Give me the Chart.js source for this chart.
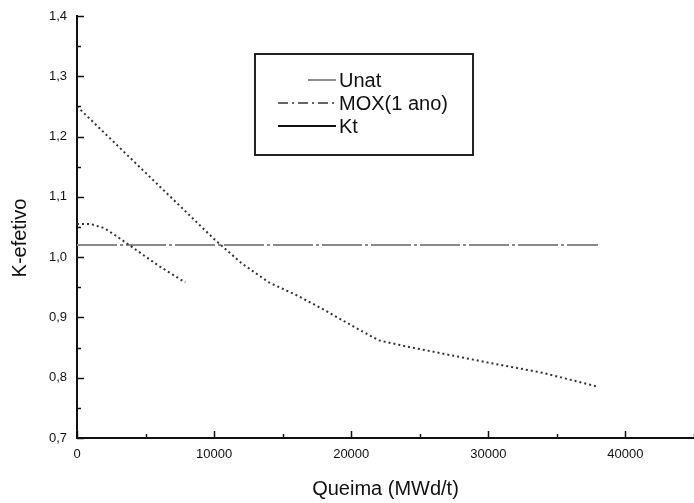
<!DOCTYPE html>
<html>
<head>
<meta charset="utf-8">
<script src="https://cdn.jsdelivr.net/npm/chart.js@4"></script>
<style>
  html, body { margin: 0; padding: 0; background: #fff; }
  canvas { display: block; }
</style>
</head>
<body>
<canvas id="chart" width="694" height="503"></canvas>
<script>
// burnup (MWd/t) and k-effective
const unatBurnup = [0, 1000, 2000, 3000, 4000, 6000, 7900];
const unatK = [1.055, 1.055, 1.048, 1.033, 1.017, 0.985, 0.958];

const moxBurnup = [0, 10000, 12000, 14000, 16000, 18000, 20000, 22000, 24000, 26000, 30000, 34000, 38000];
const moxK = [1.25, 1.03, 0.99, 0.958, 0.937, 0.913, 0.887, 0.862, 0.852, 0.843, 0.825, 0.808, 0.785];

const ktBurnup = [0, 38000];
const ktK = [1.02, 1.02];

const seriesLabels = ['Unat', 'MOX(1 ano)', 'Kt'];
const yTitle = 'K-efetivo';

const FONT = "'Liberation Sans', Arial, sans-serif";
const INK = '#111';

const toPoints = (xs, ys) => xs.map((x, i) => ({ x: x, y: ys[i] }));

const isMajorY = (v) => Math.abs(v * 10 - Math.round(v * 10)) < 1e-6;

// tick marks drawn inward, like the original plot
const innerTicks = {
  id: 'innerTicks',
  afterDraw(chart) {
    const { ctx, chartArea } = chart;
    const x = chart.scales.x;
    const y = chart.scales.y;
    ctx.save();
    ctx.strokeStyle = INK;
    ctx.lineWidth = 1.5;
    y.ticks.forEach((t) => {
      const py = Math.round(y.getPixelForValue(t.value)) + 0.5;
      const len = isMajorY(t.value) ? 7 : 4;
      ctx.beginPath();
      ctx.moveTo(chartArea.left, py);
      ctx.lineTo(chartArea.left + len, py);
      ctx.stroke();
    });
    x.ticks.forEach((t) => {
      const px = Math.round(x.getPixelForValue(t.value)) + 0.5;
      const len = t.value % 10000 === 0 ? 7 : 4;
      ctx.beginPath();
      ctx.moveTo(px, chartArea.bottom);
      ctx.lineTo(px, chartArea.bottom - len);
      ctx.stroke();
    });
    ctx.restore();
  },
};

// y title sits a bit below the middle of the axis in the original
const sideTitle = {
  id: 'sideTitle',
  afterDraw(chart) {
    const { ctx } = chart;
    ctx.save();
    ctx.translate(20, 238);
    ctx.rotate(-Math.PI / 2);
    ctx.font = '20px ' + FONT;
    ctx.fillStyle = INK;
    ctx.textAlign = 'center';
    ctx.textBaseline = 'middle';
    ctx.fillText(yTitle, 0, 0);
    ctx.restore();
  },
};

// boxed legend in the upper middle of the plot
const legendSamples = [
  { from: 308, dash: [], color: '#666', width: 1.5 },
  { from: 278, dash: [10, 4, 2, 4], color: '#333', width: 1.5 },
  { from: 278, dash: [], color: '#111', width: 2 },
];

const boxLegend = {
  id: 'boxLegend',
  afterDraw(chart) {
    const { ctx } = chart;
    ctx.save();
    ctx.strokeStyle = '#222';
    ctx.lineWidth = 2;
    ctx.strokeRect(255, 54, 218, 101);
    ctx.font = '20px ' + FONT;
    ctx.fillStyle = INK;
    ctx.textBaseline = 'middle';
    seriesLabels.forEach((label, i) => {
      const yy = 80 + i * 23;
      const s = legendSamples[i];
      ctx.strokeStyle = s.color;
      ctx.lineWidth = s.width;
      ctx.setLineDash(s.dash);
      ctx.beginPath();
      ctx.moveTo(s.from, yy);
      ctx.lineTo(336, yy);
      ctx.stroke();
      ctx.setLineDash([]);
      ctx.fillText(label, 339, yy + 1);
    });
    ctx.restore();
  },
};

new Chart(document.getElementById('chart'), {
  type: 'line',
  data: {
    datasets: [
      {
        label: seriesLabels[0],
        data: toPoints(unatBurnup, unatK),
        borderColor: '#333',
        borderWidth: 2,
        borderDash: [2, 3],
        pointRadius: 0,
        fill: false,
      },
      {
        label: seriesLabels[1],
        data: toPoints(moxBurnup, moxK),
        borderColor: '#333',
        borderWidth: 2,
        borderDash: [2, 3],
        pointRadius: 0,
        fill: false,
      },
      {
        label: seriesLabels[2],
        data: toPoints(ktBurnup, ktK),
        borderColor: '#8a8a8a',
        borderWidth: 2,
        borderDash: [40, 3, 3, 3],
        pointRadius: 0,
        fill: false,
      },
    ],
  },
  options: {
    responsive: false,
    animation: false,
    devicePixelRatio: 1,
    layout: { padding: { top: 16, right: 0, left: 0, bottom: 0 } },
    plugins: {
      legend: { display: false },
      tooltip: { enabled: false },
    },
    scales: {
      x: {
        type: 'linear',
        min: 0,
        max: 45000,
        afterBuildTicks(scale) {
          const ticks = [];
          for (let v = 0; v <= 45000; v += 5000) ticks.push({ value: v });
          scale.ticks = ticks;
        },
        afterFit(scale) {
          scale.height = 65;
          scale.paddingLeft = 0;
          scale.paddingRight = 0;
        },
        grid: { drawOnChartArea: false, drawTicks: false },
        border: { color: INK, width: 2 },
        ticks: {
          padding: 9,
          maxRotation: 0,
          autoSkip: false,
          color: INK,
          font: { family: FONT, size: 13 },
          callback: (v) => (v % 10000 === 0 && v < 45000 ? String(v) : ''),
        },
        title: {
          display: true,
          text: 'Queima (MWd/t)',
          color: INK,
          font: { family: FONT, size: 20 },
          padding: { top: 0, bottom: 2 },
        },
      },
      y: {
        min: 0.7,
        max: 1.4,
        afterFit(scale) {
          scale.width = 77;
          scale.paddingTop = 0;
          scale.paddingBottom = 0;
        },
        grid: { drawOnChartArea: false, drawTicks: false },
        border: { color: INK, width: 2 },
        ticks: {
          stepSize: 0.05,
          padding: 10,
          autoSkip: false,
          color: INK,
          font: { family: FONT, size: 13 },
          callback: (v) => (isMajorY(v) ? v.toFixed(1).replace('.', ',') : ''),
        },
      },
    },
  },
  plugins: [innerTicks, sideTitle, boxLegend],
});
</script>
</body>
</html>
